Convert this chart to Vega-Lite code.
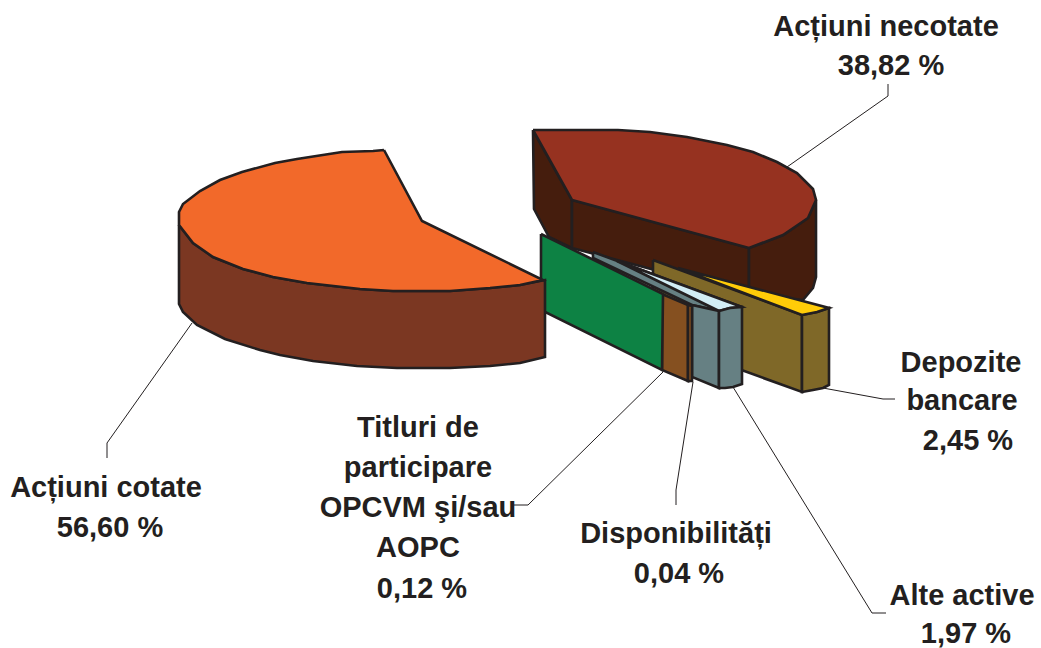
{"$schema":"https://vega.github.io/schema/vega-lite/v6.json","width":1041,"height":648,"padding":0,"autosize":"none","background":"white","config":{"view":{"stroke":null}},
"datasets":{"shapes":[
{"part":"a1","i":1,"x":533,"y":130},{"part":"a1","i":2,"x":572,"y":200},{"part":"a1","i":3,"x":572,"y":248},{"part":"a1","i":4,"x":549,"y":237},{"part":"a1","i":5,"x":534,"y":209},{"part":"a1","i":6,"x":533,"y":130},
{"part":"a2","i":1,"x":572,"y":200},{"part":"a2","i":2,"x":749,"y":248},{"part":"a2","i":3,"x":749,"y":295},{"part":"a2","i":4,"x":572,"y":248},{"part":"a2","i":5,"x":572,"y":200},
{"part":"a3","i":1,"x":749,"y":248},{"part":"a3","i":2,"x":783,"y":235},{"part":"a3","i":3,"x":808,"y":218},{"part":"a3","i":4,"x":816,"y":200},{"part":"a3","i":5,"x":816,"y":277},{"part":"a3","i":6,"x":813,"y":288},{"part":"a3","i":7,"x":803,"y":300},{"part":"a3","i":8,"x":749,"y":295},{"part":"a3","i":9,"x":749,"y":248},
{"part":"b","i":1,"x":533,"y":130},{"part":"b","i":2,"x":618,"y":130},{"part":"b","i":3,"x":650,"y":132},{"part":"b","i":4,"x":687,"y":137},{"part":"b","i":5,"x":727,"y":145},{"part":"b","i":6,"x":753,"y":152},{"part":"b","i":7,"x":777,"y":162},{"part":"b","i":8,"x":797,"y":173},{"part":"b","i":9,"x":813,"y":189},{"part":"b","i":10,"x":816,"y":200},{"part":"b","i":11,"x":808,"y":218},{"part":"b","i":12,"x":783,"y":235},{"part":"b","i":13,"x":749,"y":248},{"part":"b","i":14,"x":572,"y":200},{"part":"b","i":15,"x":533,"y":130},
{"part":"c1","i":1,"x":653,"y":260},{"part":"c1","i":2,"x":802,"y":315},{"part":"c1","i":3,"x":802,"y":392},{"part":"c1","i":4,"x":653,"y":338},{"part":"c1","i":5,"x":653,"y":260},
{"part":"c2","i":1,"x":802,"y":315},{"part":"c2","i":2,"x":817,"y":312},{"part":"c2","i":3,"x":829,"y":308},{"part":"c2","i":4,"x":829,"y":385},{"part":"c2","i":5,"x":823,"y":388},{"part":"c2","i":6,"x":813,"y":390},{"part":"c2","i":7,"x":802,"y":392},{"part":"c2","i":8,"x":802,"y":315},
{"part":"d","i":1,"x":678,"y":268},{"part":"d","i":2,"x":829,"y":308},{"part":"d","i":3,"x":817,"y":312},{"part":"d","i":4,"x":802,"y":315},{"part":"d","i":5,"x":678,"y":268},
{"part":"e1","i":1,"x":593,"y":252},{"part":"e1","i":2,"x":742,"y":307},{"part":"e1","i":3,"x":719,"y":311},{"part":"e1","i":4,"x":692,"y":305},{"part":"e1","i":5,"x":593,"y":258},{"part":"e1","i":6,"x":593,"y":252},
{"part":"f","i":1,"x":617,"y":261},{"part":"f","i":2,"x":742,"y":307},{"part":"f","i":3,"x":730,"y":308},{"part":"f","i":4,"x":719,"y":311},{"part":"f","i":5,"x":617,"y":261},
{"part":"e2","i":1,"x":692,"y":305},{"part":"e2","i":2,"x":719,"y":311},{"part":"e2","i":3,"x":719,"y":388},{"part":"e2","i":4,"x":692,"y":377},{"part":"e2","i":5,"x":692,"y":305},
{"part":"e3","i":1,"x":719,"y":311},{"part":"e3","i":2,"x":730,"y":308},{"part":"e3","i":3,"x":742,"y":307},{"part":"e3","i":4,"x":742,"y":384},{"part":"e3","i":5,"x":733,"y":387},{"part":"e3","i":6,"x":725,"y":388},{"part":"e3","i":7,"x":719,"y":388},{"part":"e3","i":8,"x":719,"y":311},
{"part":"g","i":1,"x":662,"y":294},{"part":"g","i":2,"x":688,"y":305},{"part":"g","i":3,"x":688,"y":381},{"part":"g","i":4,"x":662,"y":370},{"part":"g","i":5,"x":662,"y":294},
{"part":"g2","i":1,"x":688,"y":305},{"part":"g2","i":2,"x":692,"y":306},{"part":"g2","i":3,"x":692,"y":381},{"part":"g2","i":4,"x":688,"y":381},{"part":"g2","i":5,"x":688,"y":305},
{"part":"h","i":1,"x":541,"y":234},{"part":"h","i":2,"x":663,"y":294},{"part":"h","i":3,"x":662,"y":370},{"part":"h","i":4,"x":541,"y":310},{"part":"h","i":5,"x":541,"y":234},
{"part":"j","i":1,"x":179,"y":225},{"part":"j","i":2,"x":193,"y":243},{"part":"j","i":3,"x":213,"y":257},{"part":"j","i":4,"x":243,"y":269},{"part":"j","i":5,"x":273,"y":277},{"part":"j","i":6,"x":307,"y":283},{"part":"j","i":7,"x":360,"y":289},{"part":"j","i":8,"x":393,"y":291},{"part":"j","i":9,"x":450,"y":291},{"part":"j","i":10,"x":490,"y":288},{"part":"j","i":11,"x":520,"y":285},{"part":"j","i":12,"x":545,"y":280},{"part":"j","i":13,"x":545,"y":357},{"part":"j","i":14,"x":520,"y":363},{"part":"j","i":15,"x":490,"y":366},{"part":"j","i":16,"x":450,"y":368},{"part":"j","i":17,"x":397,"y":368},{"part":"j","i":18,"x":357,"y":366},{"part":"j","i":19,"x":313,"y":361},{"part":"j","i":20,"x":280,"y":355},{"part":"j","i":21,"x":260,"y":350},{"part":"j","i":22,"x":225,"y":339},{"part":"j","i":23,"x":197,"y":325},{"part":"j","i":24,"x":183,"y":312},{"part":"j","i":25,"x":179,"y":304},{"part":"j","i":26,"x":179,"y":225},
{"part":"k","i":1,"x":384,"y":150},{"part":"k","i":2,"x":373,"y":151},{"part":"k","i":3,"x":342,"y":152},{"part":"k","i":4,"x":297,"y":159},{"part":"k","i":5,"x":275,"y":163},{"part":"k","i":6,"x":242,"y":172},{"part":"k","i":7,"x":220,"y":180},{"part":"k","i":8,"x":200,"y":191},{"part":"k","i":9,"x":183,"y":204},{"part":"k","i":10,"x":179,"y":212},{"part":"k","i":11,"x":179,"y":225},{"part":"k","i":12,"x":193,"y":243},{"part":"k","i":13,"x":213,"y":257},{"part":"k","i":14,"x":243,"y":269},{"part":"k","i":15,"x":273,"y":277},{"part":"k","i":16,"x":307,"y":283},{"part":"k","i":17,"x":360,"y":289},{"part":"k","i":18,"x":393,"y":291},{"part":"k","i":19,"x":450,"y":291},{"part":"k","i":20,"x":490,"y":288},{"part":"k","i":21,"x":520,"y":285},{"part":"k","i":22,"x":543,"y":280},{"part":"k","i":23,"x":422,"y":221},{"part":"k","i":24,"x":384,"y":150}
],
"leaders":[
{"part":"l1","i":1,"x":787,"y":167},{"part":"l1","i":2,"x":888,"y":96},{"part":"l1","i":3,"x":888,"y":84},
{"part":"l2","i":1,"x":192,"y":323},{"part":"l2","i":2,"x":107,"y":443},{"part":"l2","i":3,"x":107,"y":458},
{"part":"l3","i":1,"x":663,"y":372},{"part":"l3","i":2,"x":528,"y":505},{"part":"l3","i":3,"x":514,"y":505},
{"part":"l4","i":1,"x":693,"y":382},{"part":"l4","i":2,"x":676,"y":490},{"part":"l4","i":3,"x":676,"y":505},
{"part":"l5","i":1,"x":733,"y":387},{"part":"l5","i":2,"x":872,"y":613},{"part":"l5","i":3,"x":886,"y":613},
{"part":"l6","i":1,"x":823,"y":388},{"part":"l6","i":2,"x":883,"y":399},{"part":"l6","i":3,"x":895,"y":399}
],
"labels":[
{"t":"Acțiuni necotate","x":886,"y":27},{"t":"38,82 %","x":891,"y":66},
{"t":"Depozite","x":961,"y":363},{"t":"bancare","x":962,"y":401},{"t":"2,45 %","x":968,"y":441},
{"t":"Alte active","x":962,"y":596},{"t":"1,97 %","x":966,"y":634},
{"t":"Disponibilități","x":676,"y":534},{"t":"0,04 %","x":679,"y":574},
{"t":"Titluri de","x":418,"y":428},{"t":"participare","x":418,"y":468},{"t":"OPCVM şi/sau","x":418,"y":508},{"t":"AOPC","x":418,"y":548},{"t":"0,12 %","x":422,"y":589},
{"t":"Acțiuni cotate","x":106,"y":488},{"t":"56,60 %","x":110,"y":528}
]},
"layer":[
{"data":{"name":"shapes"},"mark":{"type":"line","stroke":"#231f20","strokeWidth":2.6,"strokeJoin":"miter"},"encoding":{
"x":{"field":"x","type":"quantitative","scale":{"domain":[0,1041]},"axis":null},
"y":{"field":"y","type":"quantitative","scale":{"domain":[648,0]},"axis":null},
"detail":{"field":"part"},"order":{"field":"i"},
"fill":{"field":"part","type":"nominal","legend":null,"scale":{"domain":["a1","a2","a3","b","c1","c2","d","e1","f","e2","e3","g","g2","h","j","k"],"range":["#451d0d","#451d0d","#451d0d","#963220","#7f6828","#7f6828","#ffcc08","#668083","#d2edf5","#668083","#668083","#855020","#855020","#0d8244","#7b3722","#f2692a"]}}}},
{"data":{"name":"leaders"},"mark":{"type":"line","stroke":"#231f20","strokeWidth":1},"encoding":{
"x":{"field":"x","type":"quantitative","scale":{"domain":[0,1041]},"axis":null},
"y":{"field":"y","type":"quantitative","scale":{"domain":[648,0]},"axis":null},
"detail":{"field":"part"},"order":{"field":"i"}}},
{"data":{"name":"labels"},"mark":{"type":"text","font":"Liberation Sans","fontWeight":"bold","fontSize":29,"color":"#231f20","align":"center","baseline":"middle"},"encoding":{
"x":{"field":"x","type":"quantitative","scale":{"domain":[0,1041]},"axis":null},
"y":{"field":"y","type":"quantitative","scale":{"domain":[648,0]},"axis":null},
"text":{"field":"t"}}}
]}
